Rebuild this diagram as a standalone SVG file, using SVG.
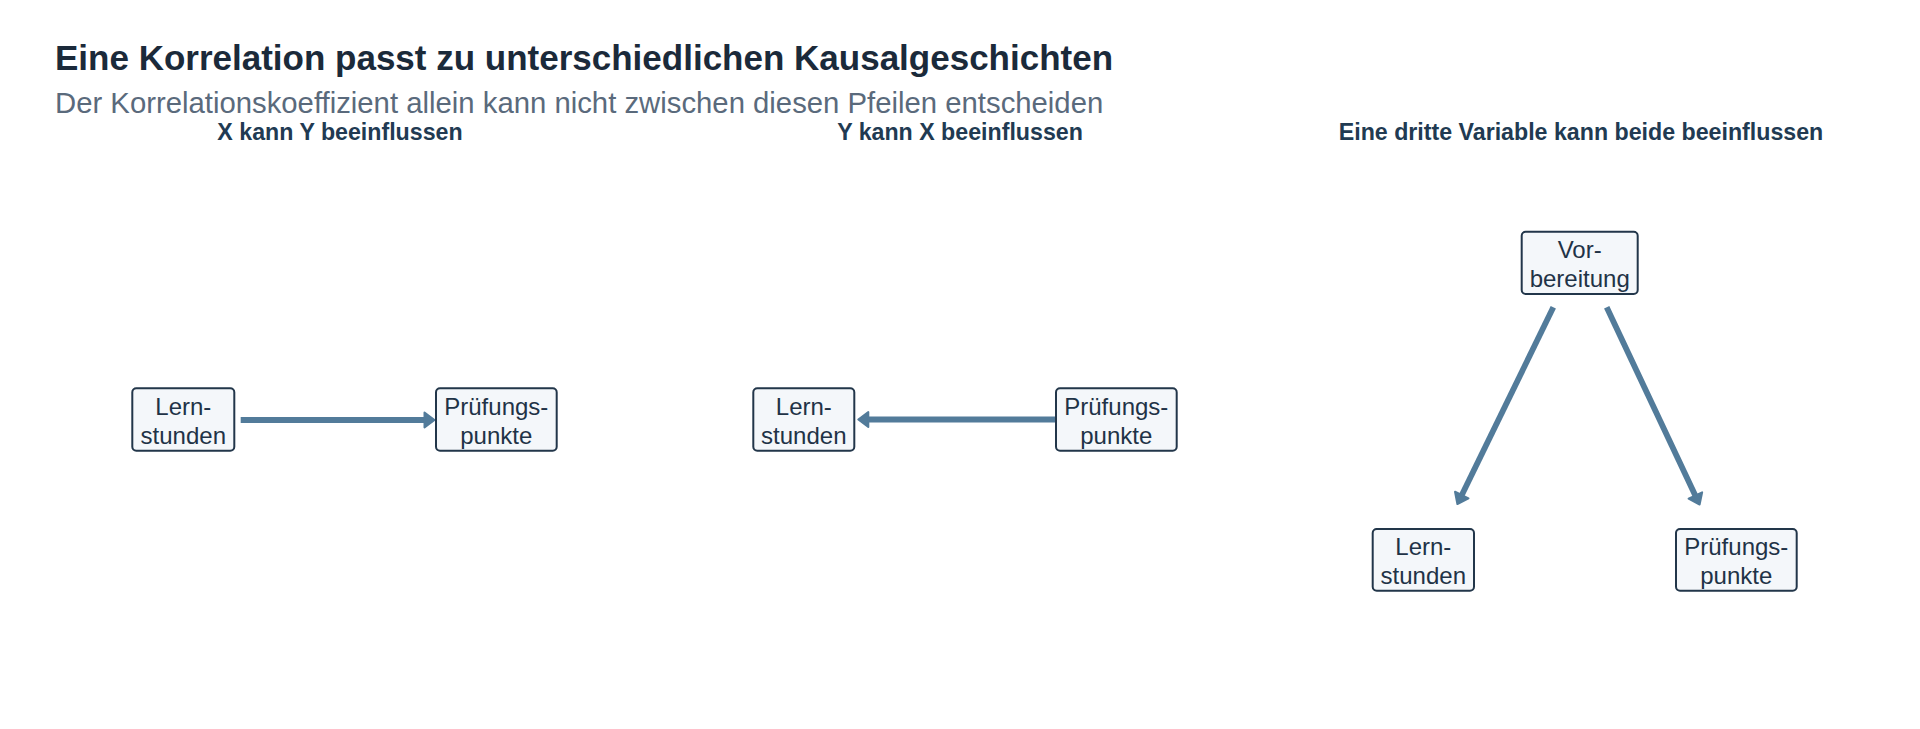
<svg xmlns="http://www.w3.org/2000/svg" width="1920" height="729" viewBox="0 0 1920 729">
  <style>
    .title { font-family: "Liberation Sans", Arial, sans-serif; font-weight: bold; font-size: 35px; fill: #1b2a3a; }
    .subtitle { font-family: "Liberation Sans", Arial, sans-serif; font-size: 29.3px; fill: #5a6a7c; }
    .panel { font-family: "Liberation Sans", Arial, sans-serif; font-weight: bold; font-size: 23.2px; fill: #213a52; text-anchor: middle; }
    .box { fill: #f4f7fa; stroke: #22364a; stroke-width: 2; }
    .lbl { font-family: "Liberation Sans", Arial, sans-serif; font-size: 24px; fill: #1f3347; text-anchor: middle; }
    .edge { stroke: #527b9a; stroke-width: 5.8; fill: none; marker-end: url(#head); }
  </style>
  <defs>
    <marker id="head" markerUnits="userSpaceOnUse" viewBox="-14 -11 18 22" markerWidth="18" markerHeight="22" refX="-8.5" refY="0" orient="auto">
      <path d="M-10,-7.5 L0,0 L-10,7.5 Z" fill="#527b9a" stroke="#527b9a" stroke-width="2" stroke-linejoin="round"/>
    </marker>
  </defs>
  <rect x="0" y="0" width="1920" height="729" fill="#ffffff"/>
  <text class="title" x="55" y="70">Eine Korrelation passt zu unterschiedlichen Kausalgeschichten</text>
  <text class="subtitle" x="55" y="113">Der Korrelationskoeffizient allein kann nicht zwischen diesen Pfeilen entscheiden</text>
  <text class="panel" x="340" y="140">X kann Y beeinflussen</text>
  <text class="panel" x="960" y="140">Y kann X beeinflussen</text>
  <text class="panel" x="1581" y="140">Eine dritte Variable kann beide beeinflussen</text>

  <g id="connectors">
    <line class="edge" x1="240.7" y1="420" x2="426" y2="420"/>
    <line class="edge" x1="1056" y1="419.5" x2="866.8" y2="419.5"/>
    <line class="edge" x1="1553.3" y1="307.3" x2="1461.1" y2="496.4"/>
    <line class="edge" x1="1606.7" y1="307.3" x2="1696" y2="496.9"/>
  </g>

  <g id="p1-lern">
    <rect class="box" x="132.3" y="388.3" width="102" height="62.4" rx="4"/>
    <text class="lbl" x="183.3" y="415">Lern-</text>
    <text class="lbl" x="183.3" y="443.5">stunden</text>
  </g>
  <g id="p1-pruef">
    <rect class="box" x="436" y="388.3" width="120.7" height="62.4" rx="4"/>
    <text class="lbl" x="496.3" y="415">Prüfungs-</text>
    <text class="lbl" x="496.3" y="443.5">punkte</text>
  </g>
  <g id="p2-lern">
    <rect class="box" x="753.3" y="388.3" width="101" height="62.4" rx="4"/>
    <text class="lbl" x="803.8" y="415">Lern-</text>
    <text class="lbl" x="803.8" y="443.5">stunden</text>
  </g>
  <g id="p2-pruef">
    <rect class="box" x="1056" y="388.3" width="120.7" height="62.4" rx="4"/>
    <text class="lbl" x="1116.3" y="415">Prüfungs-</text>
    <text class="lbl" x="1116.3" y="443.5">punkte</text>
  </g>
  <g id="p3-vor">
    <rect class="box" x="1521.7" y="231.7" width="116" height="62.3" rx="4"/>
    <text class="lbl" x="1579.7" y="258.4">Vor-</text>
    <text class="lbl" x="1579.7" y="286.9">bereitung</text>
  </g>
  <g id="p3-lern">
    <rect class="box" x="1372.7" y="529" width="101.3" height="61.7" rx="4"/>
    <text class="lbl" x="1423.3" y="555.4">Lern-</text>
    <text class="lbl" x="1423.3" y="583.9">stunden</text>
  </g>
  <g id="p3-pruef">
    <rect class="box" x="1676" y="529" width="120.7" height="61.7" rx="4"/>
    <text class="lbl" x="1736.3" y="555.4">Prüfungs-</text>
    <text class="lbl" x="1736.3" y="583.9">punkte</text>
  </g>
</svg>
